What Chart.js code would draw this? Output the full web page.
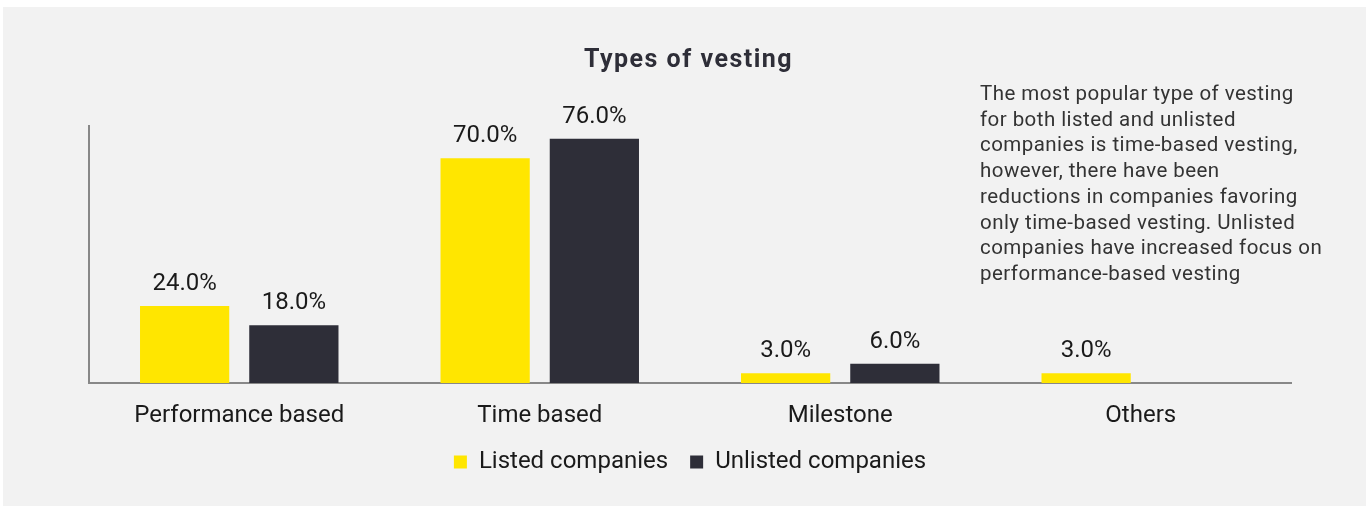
<!DOCTYPE html>
<html>
<head>
<meta charset="utf-8">
<script src="https://cdn.jsdelivr.net/npm/chart.js@4.4.0/dist/chart.umd.min.js"></script>
<style>
  html, body { margin: 0; padding: 0; background: #ffffff; }
  #panel { position: absolute; left: 3px; top: 7px; width: 1363px; height: 499px; background: #f2f2f2; }
  #chart { position: absolute; left: 0; top: 0; }
  #title {
    position: absolute; left: 4px; top: 37px; width: 1363px; text-align: center;
    font-family: Roboto, sans-serif; font-weight: bold; font-size: 25px; line-height: 30px;
    letter-spacing: 1.5px; color: #2e2e38;
  }
  #note {
    position: absolute; left: 977px; top: 74px; width: 380px;
    font-family: Roboto, sans-serif; font-size: 20.5px; line-height: 25.7px; color: #333333;
    letter-spacing: 0.45px; white-space: nowrap;
  }
</style>
</head>
<body>
<div id="panel">
  <canvas id="chart" width="1363" height="499"></canvas>
  <div id="title">Types of vesting</div>
  <div id="note">The most popular type of vesting<br>for both listed and unlisted<br>companies is time-based vesting,<br>however, there have been<br>reductions in companies favoring<br>only time-based vesting. Unlisted<br>companies have increased focus on<br>performance-based vesting</div>
</div>
<script>
// chart data
var categories = ["Performance based", "Time based", "Milestone", "Others"];
var listedValues = [24, 70, 3, 3];
var unlistedValues = [18, 76, 6, 0];
var seriesNames = ["Listed companies", "Unlisted companies"];

var textColor = '#1a1a1a';
var axisColor = '#888888';

// draws the value labels over each bar (skips empty bars)
var valueLabels = {
  id: 'valueLabels',
  afterDatasetsDraw: function(chart) {
    var ctx = chart.ctx;
    ctx.save();
    ctx.font = '24px Roboto';
    ctx.fillStyle = textColor;
    ctx.textAlign = 'center';
    ctx.textBaseline = 'alphabetic';
    chart.data.datasets.forEach(function(ds, i) {
      var meta = chart.getDatasetMeta(i);
      meta.data.forEach(function(bar, j) {
        var v = ds.data[j];
        if (!v) return;
        ctx.fillText(v.toFixed(1) + '%', bar.x, bar.y - 16);
      });
    });
    ctx.restore();
  }
};

var ctx = document.getElementById('chart').getContext('2d');
var vestingChart = new Chart(ctx, {
  type: 'bar',
  data: {
    labels: categories,
    datasets: [{
      label: seriesNames[0],
      data: listedValues,
      backgroundColor: '#ffe600',
      categoryPercentage: 0.727,
      barPercentage: 0.817
    }, {
      label: seriesNames[1],
      data: unlistedValues,
      backgroundColor: '#2e2e38',
      categoryPercentage: 0.727,
      barPercentage: 0.817
    }]
  },
  options: {
    responsive: false,
    animation: false,
    layout: { padding: { left: 86, right: 75, top: 119, bottom: 22 } },
    scales: {
      x: {
        grid: { display: false, drawTicks: false },
        border: { color: axisColor, width: 2 },
        ticks: { color: textColor, font: { family: 'Roboto', size: 24 }, padding: 19 },
        afterFit: function(scale) { scale.height = 45; }
      },
      y: {
        min: 0,
        max: 80,
        grid: { display: false, drawTicks: false },
        border: { color: axisColor, width: 2 },
        ticks: { display: false }
      }
    },
    plugins: {
      title: { display: false },
      legend: {
        position: 'bottom',
        labels: {
          color: textColor,
          font: { family: 'Roboto', size: 24 },
          boxWidth: 13,
          boxHeight: 13,
          padding: 22
        }
      },
      tooltip: { enabled: false }
    }
  },
  plugins: [valueLabels]
});
</script>
</body>
</html>
